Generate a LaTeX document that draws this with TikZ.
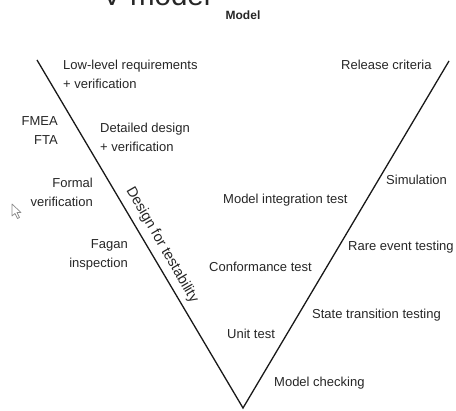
\documentclass[tikz,border=0pt]{standalone}
\usepackage{fontspec}
\setmainfont{Liberation Sans}
\begin{document}
\begin{tikzpicture}[x=1pt,y=-1pt,
  lbl/.style={inner sep=0pt,text=black!85,font=\fontsize{13}{19}\selectfont},
  vline/.style={line width=1.3pt,black!90}]
\useasboundingbox (0,0) rectangle (456,411);
% title (cut off at top)
\node[inner sep=0pt,anchor=base west,text=black!85,font=\fontsize{29.5}{30}\selectfont] (title) at (102,6) {V-model};
\node[inner sep=0pt,text=black!85,font=\fontsize{12}{13}\selectfont\bfseries] (model) at (243,15) {Model};
% V
\coordinate (vtl) at (37,60);
\coordinate (vb) at (243,408);
\coordinate (vtr) at (449,61);
\draw[vline] (vtl) -- (vb) -- (vtr);
% left side
\node[lbl,anchor=west,align=left] (lowreq) at (63,74) {Low-level requirements\\+ verification};
\node[lbl,anchor=east,align=right] (fmea) at (58,131) {FMEA\\FTA};
\node[lbl,anchor=west,align=left] (detailed) at (100,137) {Detailed design\\+ verification};
\node[lbl,anchor=east,align=right] (formal) at (93,192) {Formal\\verification};
\node[lbl,anchor=east,align=right] (fagan) at (128,255) {Fagan\\inspection};
\node[lbl,rotate=-60,font=\fontsize{14.5}{16}\selectfont] (dft) at (162,245) {Design for testability};
% right side
\node[lbl,anchor=west] (release) at (341,65) {Release criteria};
\node[lbl,anchor=west] (simulation) at (386,180) {Simulation};
\node[lbl,anchor=west] (mit) at (223,200) {Model integration test};
\node[lbl,anchor=west] (rare) at (348,247) {Rare event testing};
\node[lbl,anchor=west] (conf) at (209,267) {Conformance test};
\node[lbl,anchor=west] (state) at (312,315) {State transition testing};
\node[lbl,anchor=west] (unit) at (227,334) {Unit test};
\node[lbl,anchor=west] (mcheck) at (274,383) {Model checking};
% mouse cursor
\draw[black!45,line width=0.7pt,fill=white,line join=round]
  (12,204) -- (12,216) -- (15,213.5) -- (17.5,218.5) -- (19.5,217.5) -- (17,212.5) -- (21,212.5) -- cycle;
\end{tikzpicture}
\end{document}
